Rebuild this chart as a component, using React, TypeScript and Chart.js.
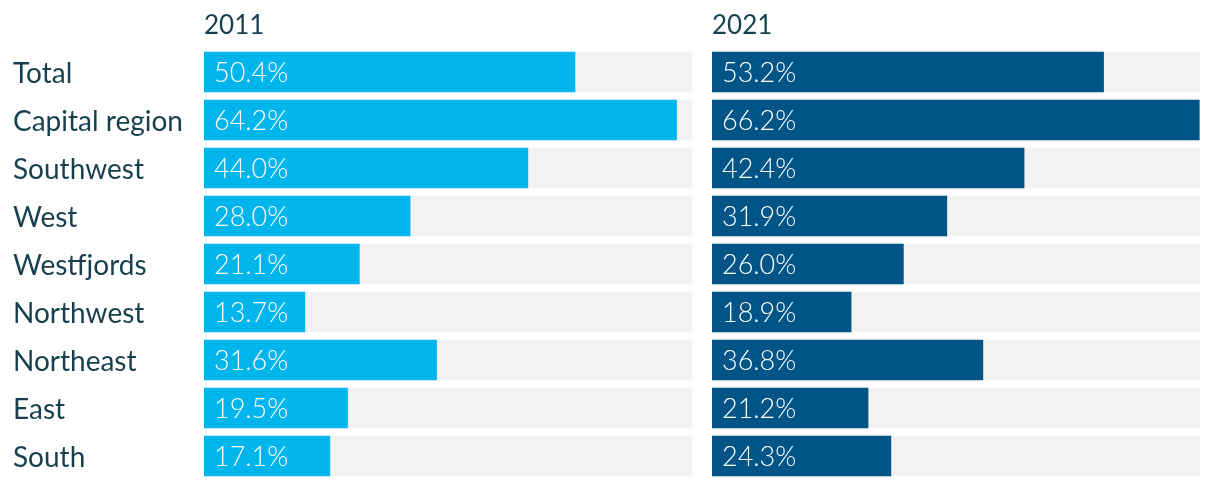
import React, { useEffect, useRef } from "react";
import { Chart, registerables } from "chart.js";

Chart.register(...registerables);

const categories = [
  "Total",
  "Capital region",
  "Southwest",
  "West",
  "Westfjords",
  "Northwest",
  "Northeast",
  "East",
  "South",
];
const values2011 = [50.4, 64.2, 44.0, 28.0, 21.1, 13.7, 31.6, 19.5, 17.1];
const values2021 = [53.2, 66.2, 42.4, 31.9, 26.0, 18.9, 36.8, 21.2, 24.3];
const panelTitles = ["2011", "2021"];
const xMax = 66.3;

const TEXT = "#173f4e";
const TRACK = "#f2f2f2";
const LIGHT = "#00b4ec";
const DARK = "#005486";
const FONT = "Lato, 'Open Sans', sans-serif";

function makeChart(
  canvas: HTMLCanvasElement,
  title: string,
  values: number[],
  color: string,
  showLabels: boolean,
  axisWidth: number,
  padLeft: number,
  padRight: number
) {
  const labelPlugin = {
    id: "panelText",
    afterDatasetsDraw(chart: any) {
      const ctx = chart.ctx;
      const area = chart.chartArea;
      ctx.save();
      ctx.fillStyle = TEXT;
      ctx.font = `400 26px ${FONT}`;
      ctx.textAlign = "left";
      ctx.textBaseline = "middle";
      ctx.fillText(title, area.left, 26);
      const meta = chart.getDatasetMeta(1);
      ctx.fillStyle = "#ffffff";
      ctx.font = `300 27px ${FONT}`;
      meta.data.forEach((el: any, i: number) => {
        ctx.fillText(values[i].toFixed(1) + "%", el.base + 10, el.y + 1);
      });
      ctx.restore();
    },
  };

  return new Chart(canvas, {
    type: "bar",
    data: {
      labels: categories,
      datasets: [
        {
          data: categories.map(() => xMax),
          backgroundColor: TRACK,
          order: 2,
          grouped: false,
          barThickness: 40,
        } as any,
        {
          data: values,
          backgroundColor: color,
          order: 1,
          grouped: false,
          barThickness: 40,
        } as any,
      ],
    },
    options: {
      indexAxis: "y",
      animation: false,
      responsive: false,
      events: [],
      layout: { padding: { left: padLeft, right: padRight, top: 48, bottom: 6 } },
      plugins: { legend: { display: false }, tooltip: { enabled: false } },
      scales: {
        x: { display: false, min: 0, max: xMax },
        y: {
          display: true,
          grid: { display: false },
          border: { display: false },
          ticks: {
            display: showLabels,
            color: TEXT,
            font: { family: FONT, size: 28, weight: 400 as any },
            crossAlign: "far",
            padding: 0,
            labelOffset: 2,
          },
          afterFit(scale: any) {
            scale.width = axisWidth;
            scale.paddingTop = 0;
            scale.paddingBottom = 0;
          },
        },
      },
    },
    plugins: [labelPlugin],
  } as any);
}

export default function App() {
  const ref1 = useRef<HTMLCanvasElement>(null);
  const ref2 = useRef<HTMLCanvasElement>(null);

  useEffect(() => {
    const c1 = makeChart(ref1.current!, panelTitles[0], values2011, LIGHT, true, 191, 13, 8);
    const c2 = makeChart(ref2.current!, panelTitles[1], values2021, DARK, false, 0, 12, 20);
    return () => {
      c1.destroy();
      c2.destroy();
    };
  }, []);

  return (
    <div style={{ position: "absolute", left: 0, top: 0, width: 1220, height: 486, background: "#fff" }}>
      <canvas ref={ref1} width={700} height={486} style={{ position: "absolute", left: 0, top: 0 }} />
      <canvas ref={ref2} width={520} height={486} style={{ position: "absolute", left: 700, top: 0 }} />
    </div>
  );
}
